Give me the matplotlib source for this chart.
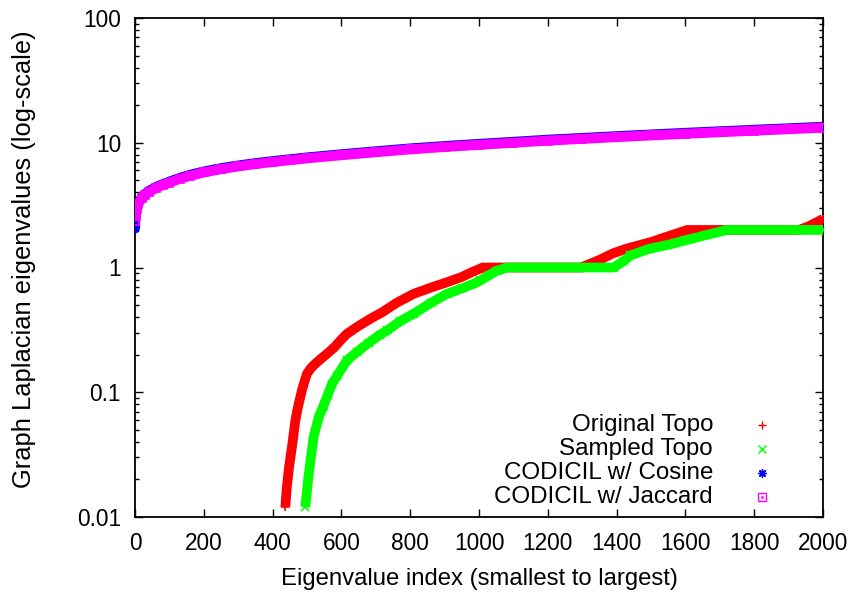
import matplotlib
matplotlib.use("Agg")
import matplotlib.pyplot as plt
from matplotlib.ticker import LogLocator, NullFormatter, FixedLocator

plt.rcParams['font.family'] = ['Liberation Sans', 'DejaVu Sans']

# Eigenvalue spectra (index, eigenvalue)
orig_idx = [437, 441, 443, 447, 451, 456, 461, 466, 471, 476, 485, 492, 500, 512, 524,
            540, 558, 580, 600, 616, 650, 684, 720, 760, 810, 860, 907, 950, 980, 1004,
            1010, 1100, 1200, 1300, 1304, 1350, 1390, 1430, 1500, 1550, 1605, 1700,
            1800, 1930, 1960, 2000]
orig_val = [0.012, 0.017, 0.019, 0.024, 0.029, 0.036, 0.046, 0.059, 0.070, 0.081, 0.103,
            0.120, 0.141, 0.157, 0.169, 0.185, 0.203, 0.230, 0.265, 0.294, 0.340, 0.388,
            0.440, 0.520, 0.615, 0.690, 0.762, 0.840, 0.920, 0.980, 1.0, 1.0, 1.0, 1.0,
            1.02, 1.15, 1.30, 1.42, 1.60, 1.78, 2.0, 2.0, 2.0, 2.0, 2.15, 2.45]

samp_idx = [495, 500, 504, 510, 519, 534, 548, 560, 573, 587, 616, 645, 680, 713, 733,
            770, 810, 860, 907, 950, 984, 1004, 1030, 1052, 1062, 1081, 1200, 1300,
            1391, 1420, 1440, 1498, 1550, 1600, 1660, 1720, 1800, 1900, 2000]
samp_val = [0.012, 0.0163, 0.0209, 0.028, 0.0436, 0.063, 0.078, 0.095, 0.117, 0.135,
            0.180, 0.210, 0.250, 0.290, 0.313, 0.370, 0.426, 0.520, 0.615, 0.680, 0.740,
            0.787, 0.870, 0.946, 0.960, 1.0, 1.0, 1.0, 1.0, 1.12, 1.25, 1.42, 1.52, 1.65,
            1.82, 2.0, 2.0, 2.0, 2.0]

codicil_idx = [0, 2, 5, 10, 20, 30, 40, 60, 80, 100, 130, 160, 200, 250, 300, 350, 400,
               450, 500, 600, 700, 800, 900, 1000, 1100, 1200, 1300, 1400, 1500, 1600,
               1700, 1800, 1900, 2000]
cosine_val = [2.05, 2.72, 3.02, 3.32, 3.66, 3.90, 4.10, 4.40, 4.64, 4.88, 5.22, 5.53,
              5.88, 6.25, 6.57, 6.86, 7.12, 7.37, 7.62, 8.08, 8.54, 9.00, 9.40, 9.79,
              10.17, 10.57, 10.92, 11.28, 11.64, 12.00, 12.35, 12.70, 13.05, 13.42]
jaccard_val = [2.35, 2.65, 2.95, 3.25, 3.58, 3.82, 4.02, 4.32, 4.56, 4.80, 5.13, 5.43,
               5.78, 6.14, 6.46, 6.75, 7.01, 7.25, 7.50, 7.95, 8.40, 8.85, 9.25, 9.63,
               10.00, 10.40, 10.75, 11.10, 11.45, 11.80, 12.15, 12.50, 12.85, 13.20]

labels = ["Original Topo", "Sampled Topo", "CODICIL w/ Cosine", "CODICIL w/ Jaccard"]
colors = ["#ff0000", "#00ff00", "#0000ff", "#ff00ff"]
markers = ["+", "x", (8, 2, 0), "s"]

x_ticks = list(range(0, 2001, 200))
y_ticks = [0.01, 0.1, 1, 10, 100]
y_tick_labels = ["0.01", "0.1", "1", "10", "100"]

W, H = 859, 597
fig = plt.figure(figsize=(W / 100, H / 100), dpi=100)
ax = fig.add_axes([135 / W, (H - 517) / H, 688 / W, 499 / H])

series = [(orig_idx, orig_val), (samp_idx, samp_val),
          (codicil_idx, cosine_val), (codicil_idx, jaccard_val)]
widths = [7.0, 7.0, 7.2, 7.2]
for (xs, ys), c, m, lw in zip(series, colors, markers, widths):
    ax.plot(xs, ys, color=c, lw=lw, solid_capstyle='butt', solid_joinstyle='round',
            marker=m, ms=5.5, mew=1.2, mfc='none' if m == 's' else c, zorder=3)

ax.set_yscale('log')
ax.set_xlim(0, 2000)
ax.set_ylim(0.01, 100)
ax.xaxis.set_major_locator(FixedLocator(x_ticks))
ax.set_xticklabels([str(v) for v in x_ticks])
ax.set_yticks(y_ticks)
ax.set_yticklabels(y_tick_labels)
ax.yaxis.set_minor_locator(LogLocator(base=10, subs=range(2, 10), numticks=20))
ax.yaxis.set_minor_formatter(NullFormatter())

for s in ax.spines.values():
    s.set_linewidth(1.3)
ax.tick_params(which='both', direction='in', top=True, right=True, width=1.0,
               labelsize=16.3, colors='black')
ax.tick_params(which='major', length=6)
ax.tick_params(which='minor', length=3.2)
ax.tick_params(axis='x', pad=11)
ax.tick_params(axis='y', pad=10)

ax.set_xlabel("Eigenvalue index (smallest to largest)", fontsize=17.2, labelpad=9)
ax.set_ylabel("Graph Laplacian eigenvalues (log-scale)", fontsize=18.4)
ax.yaxis.set_label_coords(-0.144, 0.517)

# Key: right-aligned labels with the sample marker to their right
key_rows = [425, 449.3, 472.7, 497.3]
for lab, c, m, yy in zip(labels, colors, markers, key_rows):
    fy = (H - yy) / H
    fig.text(713 / W, fy, lab, ha='right', va='center', fontsize=17.4)
    ax.plot([761.7 / W], [fy], transform=fig.transFigure, linestyle='none',
            marker=m, ms=6, mew=1.0, color=c, mfc='none', clip_on=False, zorder=5)
    if m == 's':
        ax.plot([761.7 / W], [fy], transform=fig.transFigure, linestyle='none',
                marker='.', ms=2, color=c, clip_on=False, zorder=5)

fig.savefig("out.png", dpi=100)
